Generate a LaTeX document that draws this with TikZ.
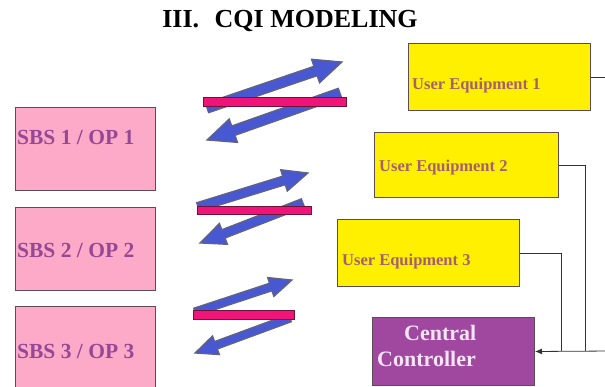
\documentclass[tikz,border=0pt]{standalone}
\usepackage{fontspec}
\setmainfont{Liberation Serif}
\usetikzlibrary{arrows.meta,calc}
\definecolor{sbspink}{RGB}{252,170,200}
\definecolor{sbsink}{RGB}{150,72,150}
\definecolor{ueyellow}{RGB}{255,240,0}
\definecolor{ueink}{RGB}{165,95,110}
\definecolor{ccpurple}{RGB}{160,72,160}
\definecolor{ccink}{RGB}{245,228,245}
\definecolor{boxedge}{RGB}{95,75,85}
\definecolor{arrowblue}{RGB}{72,88,210}
\definecolor{arrowedge}{RGB}{100,100,120}
\definecolor{barpink}{RGB}{240,20,120}
\definecolor{baredge}{RGB}{110,20,60}

% block arrow from #1 to #2, size factor #3
\newcommand\blockarrow[3]{%
  \coordinate (neck) at ($(#2)!#3*28pt!(#1)$);
  \filldraw[fatarrow] ($(#1)!#3*5pt!90:(#2)$) -- ($(neck)!#3*5pt!90:(#2)$)
    -- ($(neck)!#3*12.5pt!90:(#2)$) -- (#2) -- ($(neck)!#3*12.5pt!-90:(#2)$)
    -- ($(neck)!#3*5pt!-90:(#2)$) -- ($(#1)!#3*5pt!-90:(#2)$) -- cycle;}

\begin{document}
\begin{tikzpicture}[x=1pt,y=-1pt,
  every node/.style={inner sep=0pt, font=\bfseries},
  box/.style={draw=boxedge, line width=1pt, anchor=north west},
  sbs/.style={box, fill=sbspink, minimum width=140pt, minimum height=83pt},
  ue/.style={box, fill=ueyellow, minimum height=67pt},
  sbslabel/.style={anchor=base west, text=sbsink, font=\bfseries\fontsize{21.5}{25}\selectfont},
  uelabel/.style={anchor=base west, text=ueink, font=\bfseries\fontsize{16.5}{20}\selectfont},
  bar/.style={draw=baredge, fill=barpink, line width=.6pt, anchor=north west, minimum height=9pt},
  fatarrow/.style={draw=arrowedge, fill=arrowblue, line width=1.2pt, line join=miter},
  wire/.style={draw=black!80, line width=.8pt}]
\useasboundingbox (0,0) rectangle (605,387);

\node[anchor=base, font=\bfseries\fontsize{26}{30}\selectfont] (title) at (290,28) {III.\hspace{9pt} CQI MODELING};

\node[sbs] (sbs1) at (15,107) {};
\node[sbs] (sbs2) at (15,207) {};
\node[sbs, minimum height=95pt] (sbs3) at (15,306) {};
\node[sbslabel] at (17,145) {SBS 1 / OP 1};
\node[sbslabel] at (17,258) {SBS 2 / OP 2};
\node[sbslabel] at (17,358) {SBS 3 / OP 3};

\node[ue, minimum width=182pt] (ue1) at (408,43) {};
\node[ue, minimum width=184pt, minimum height=65pt] (ue2) at (374,132) {};
\node[ue, minimum width=182pt] (ue3) at (337,219) {};
\node[uelabel] at (412,90) {User Equipment 1};
\node[uelabel] at (379,172) {User Equipment 2};
\node[uelabel] at (342,266) {User Equipment 3};

\node[box, fill=ccpurple, minimum width=162pt, minimum height=68pt] (cc) at (372,317) {};
\node[anchor=base west, text=ccink, font=\bfseries\fontsize{22}{26}\selectfont] at (404,340) {Central};
\node[anchor=base west, text=ccink, font=\bfseries\fontsize{22}{26}\selectfont] at (377,366) {Controller};

\coordinate (up1a) at (207,108); \coordinate (up1b) at (342,62);
\coordinate (dn1a) at (340,93);  \coordinate (dn1b) at (207,140);
\coordinate (up2a) at (198,207); \coordinate (up2b) at (308,173);
\coordinate (dn2a) at (303,203); \coordinate (dn2b) at (200,243);
\coordinate (up3a) at (195,312); \coordinate (up3b) at (292,280);
\coordinate (dn3a) at (290,318); \coordinate (dn3b) at (195,353);

\blockarrow{up1a}{up1b}{1}
\blockarrow{dn1a}{dn1b}{1}
\blockarrow{up2a}{up2b}{.9}
\blockarrow{dn2a}{dn2b}{.9}
\blockarrow{up3a}{up3b}{.8}
\blockarrow{dn3a}{dn3b}{.8}

\node[bar, minimum width=143pt] (bar1) at (203,97) {};
\node[bar, minimum width=114pt, minimum height=8pt] (bar2) at (197,206) {};
\node[bar, minimum width=101pt] (bar3) at (193,310) {};

\coordinate (edge) at (612,351);
\coordinate (j2) at (585,351);
\coordinate (j3) at (561,351);
\draw[wire] (ue1.east) -| (edge);
\draw[wire] (ue2.east) -| (j2);
\draw[wire] (ue3.east) -| (j3);
\draw[wire,-{Latex[length=7pt,width=6pt]}] (edge)--(cc.east);
\end{tikzpicture}
\end{document}
